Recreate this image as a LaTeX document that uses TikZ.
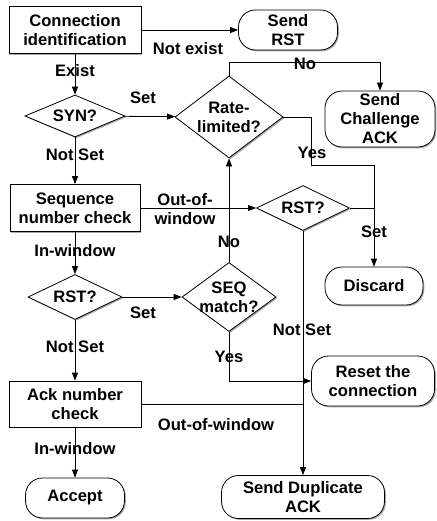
\documentclass[tikz,border=0pt]{standalone}
\usepackage{fontspec}
\setmainfont{Liberation Sans}
\usetikzlibrary{arrows.meta,shapes.geometric,shadows}
\begin{document}
\begin{tikzpicture}[x=1pt,y=-1pt,
  every node/.style={font=\fontsize{16.6}{19}\selectfont\bfseries},
  base/.style={draw, line width=0.8pt, fill=white, align=center, inner sep=1pt,
    drop shadow={shadow xshift=1.3pt, shadow yshift=-1.3pt, opacity=0.35, fill=black}},
  procbox/.style={base, rectangle},
  termbox/.style={base, rectangle, rounded corners=17pt},
  decbox/.style={base, diamond, inner sep=-5pt},
  arr/.style={line width=0.8pt, -{Triangle[length=8pt,width=6pt]}},
  ln/.style={line width=0.8pt},
  lab/.style={inner sep=0pt}
]
\useasboundingbox (0,0) rectangle (436,521);

% nodes
\node[procbox, minimum width=132pt, minimum height=47pt] (cid) at (75,30) {Connection\\identification};
\node[termbox, minimum width=99pt, minimum height=40pt] (rst) at (288,30) {Send\\RST};
\node[decbox, shape aspect=2.4, minimum width=100pt, minimum height=42pt] (syn) at (75,116) {SYN?};
\node[decbox, shape aspect=1.32, minimum width=108pt, minimum height=82pt] (rate) at (229,117) {Rate-\\limited?};
\node[termbox, minimum width=110pt, minimum height=56pt] (chal) at (380,119) {Send\\Challenge\\ACK};
\node[procbox, minimum width=130pt, minimum height=47pt] (seq) at (75,208) {Sequence\\number check};
\node[decbox, shape aspect=2.07, minimum width=93pt, minimum height=45pt] (rst2) at (303,208) {RST?};
\node[termbox, minimum width=98pt, minimum height=38pt] (disc) at (374,286) {Discard};
\node[decbox, shape aspect=2.09, minimum width=94pt, minimum height=45pt] (rst1) at (75,297) {RST?};
\node[decbox, shape aspect=1.36, minimum width=94pt, minimum height=69pt] (seqm) at (229,297) {SEQ\\match?};
\node[procbox, minimum width=132pt, minimum height=46pt] (ack) at (75,404) {Ack number\\check};
\node[termbox, minimum width=99pt, minimum height=40pt] (acc) at (75,498) {Accept};
\node[termbox, minimum width=123pt, minimum height=50pt] (reset) at (373,381) {Reset the\\connection};
\node[termbox, minimum width=163pt, minimum height=43pt] (dup) at (303,497) {Send Duplicate\\ACK};

% connectors
\draw[arr] (cid.east) -- (rst.west);
\draw[arr] (cid) -- (syn);
\draw[arr] (syn) -- (rate);
\draw[arr] (syn) -- (seq);
\draw[arr] (rate.north) -- ++(0,-13) -| (chal.north);
\draw[arr] (rate.east) -- ++(28,0) -- ++(0,48) -| (disc.north);
\draw[arr] (seq.east) -- (rst2.west);
\draw[ln] (rst2.east) -- (rst2.east -| disc.north);
\draw[arr] (seq) -- (rst1);
\draw[arr] (rst1) -- (seqm);
\draw[arr] (rst1) -- (ack);
\draw[arr] (seqm) -- (rate);
\draw[arr] (seqm.south) |- (reset.west);
\draw[arr] (rst2.south) -- (dup.north);
\draw[ln] (ack.east) -- (ack.east -| rst2.south);
\draw[arr] (ack) -- (acc);

% labels
\node[lab] (lNotExist) at (188,49) {Not exist};
\node[lab] (lExist) at (75,71) {Exist};
\node[lab] (lSynSet) at (143,98) {Set};
\node[lab] (lSynNot) at (75,155) {Not Set};
\node[lab] (lNo1) at (305,64) {No};
\node[lab] (lYes1) at (312,153) {Yes};
\node[lab, align=center] (lOow1) at (185,209) {Out-of-\\window};
\node[lab] (lSet2) at (374,232) {Set};
\node[lab] (lNot2) at (302,330) {Not Set};
\node[lab] (lIn1) at (75,251) {In-window};
\node[lab] (lSet1) at (143,313) {Set};
\node[lab] (lNo2) at (229,242) {No};
\node[lab] (lNot1) at (75,347) {Not Set};
\node[lab] (lYes2) at (229,357) {Yes};
\node[lab] (lOow2) at (216,425) {Out-of-window};
\node[lab] (lIn2) at (75,449) {In-window};
\end{tikzpicture}
\end{document}
